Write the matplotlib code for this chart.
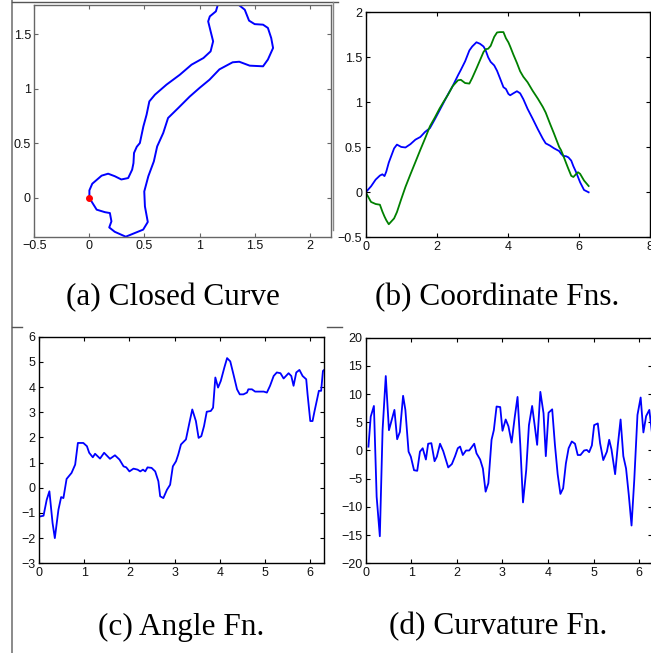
import numpy as np
import matplotlib
matplotlib.use("Agg")
import matplotlib.pyplot as plt
from matplotlib.lines import Line2D
from matplotlib.ticker import FuncFormatter

# closed curve, sampled along its arc-length parameter t
t_curve = [0, 0.15, 0.28, 0.4, 0.47, 0.53, 0.58, 0.65, 0.8, 0.88,
           1.0, 1.12, 1.26, 1.4, 1.54, 1.67, 1.81, 1.94, 2.08, 2.2,
           2.32, 2.45, 2.6, 2.68, 2.8, 2.92, 3.0, 3.12, 3.22, 3.32,
           3.38, 3.45, 3.52, 3.62, 3.7, 3.78, 3.88, 3.95, 4.02, 4.07,
           4.16, 4.26, 4.35, 4.44, 4.56, 4.7, 4.85, 4.99, 5.07, 5.19,
           5.3, 5.45, 5.5, 5.56, 5.65, 5.71, 5.79, 5.85, 5.92, 5.98,
           6.04, 6.15, 6.28]
x_curve = [0, 0.066, 0.141, 0.186, 0.2, 0.18, 0.23, 0.33, 0.488, 0.53,
           0.504, 0.498, 0.535, 0.585, 0.615, 0.67, 0.714, 0.806, 0.91, 1.0,
           1.09, 1.18, 1.3, 1.36, 1.455, 1.576, 1.62, 1.667, 1.65, 1.62,
           1.576, 1.5, 1.449, 1.41, 1.35, 1.27, 1.168, 1.148, 1.093, 1.078,
           1.1, 1.123, 1.1, 1.035, 0.927, 0.82, 0.7, 0.595, 0.544, 0.519,
           0.49, 0.458, 0.43, 0.405, 0.4, 0.388, 0.352, 0.29, 0.23, 0.17,
           0.111, 0.026, 0.0]
y_curve = [0, -0.107, -0.13, -0.138, -0.214, -0.27, -0.31, -0.355, -0.29, -0.22,
           -0.077, 0.06, 0.2, 0.336, 0.473, 0.596, 0.734, 0.825, 0.93, 1.01,
           1.085, 1.18, 1.245, 1.25, 1.214, 1.208, 1.27, 1.376, 1.468, 1.56,
           1.59, 1.595, 1.627, 1.727, 1.776, 1.78, 1.78, 1.712, 1.666, 1.62,
           1.53, 1.437, 1.345, 1.284, 1.223, 1.13, 1.04, 0.948, 0.886, 0.764,
           0.657, 0.504, 0.47, 0.413, 0.32, 0.26, 0.183, 0.17, 0.2, 0.223,
           0.205, 0.131, 0.07]
start_pt = (0.0, 0.0)

# tangent angle along the curve
t_angle = [0.02, 0.1, 0.17, 0.23, 0.3, 0.35, 0.43, 0.49, 0.54, 0.61,
           0.72, 0.8, 0.86, 0.98, 1.06, 1.11, 1.19, 1.24, 1.35, 1.44,
           1.57, 1.68, 1.78, 1.87, 1.93, 2.0, 2.09, 2.18, 2.24, 2.3,
           2.35, 2.4, 2.49, 2.57, 2.64, 2.68, 2.75, 2.83, 2.9, 2.96,
           3.03, 3.08, 3.14, 3.25, 3.33, 3.39, 3.47, 3.53, 3.59, 3.65,
           3.71, 3.8, 3.85, 3.9, 3.96, 4.02, 4.1, 4.16, 4.23, 4.3,
           4.38, 4.44, 4.52, 4.6, 4.63, 4.71, 4.78, 4.97, 5.04, 5.11,
           5.19, 5.26, 5.34, 5.41, 5.52, 5.58, 5.63, 5.69, 5.76, 5.83,
           5.91, 5.94, 6.0, 6.05, 6.09, 6.15, 6.19, 6.24, 6.28, 6.33]
angle = [-1.14, -1.11, -0.48, -0.14, -1.4, -2.0, -0.87, -0.37, -0.41, 0.35,
         0.59, 0.92, 1.78, 1.78, 1.65, 1.39, 1.21, 1.35, 1.16, 1.39,
         1.15, 1.29, 1.12, 0.85, 0.81, 0.65, 0.76, 0.72, 0.65, 0.72,
         0.65, 0.81, 0.79, 0.65, 0.26, -0.34, -0.41, -0.08, 0.12, 0.85,
         1.05, 1.32, 1.72, 1.92, 2.61, 3.11, 2.65, 1.98, 2.05, 2.45,
         3.02, 3.05, 3.18, 4.38, 3.98, 4.24, 4.78, 5.15, 5.02, 4.51,
         3.91, 3.71, 3.71, 3.78, 3.91, 3.91, 3.82, 3.82, 3.78, 4.05,
         4.44, 4.58, 4.55, 4.34, 4.55, 4.44, 4.05, 4.58, 4.68, 4.44,
         4.31, 3.71, 2.65, 2.65, 3.01, 3.51, 3.85, 3.85, 4.64, 4.72]

# curvature along the curve
t_curv = [0.06, 0.11, 0.18, 0.24, 0.31, 0.37, 0.44, 0.51, 0.57, 0.63,
          0.69, 0.75, 0.82, 0.87, 0.94, 0.99, 1.06, 1.13, 1.19, 1.25,
          1.32, 1.37, 1.44, 1.51, 1.56, 1.63, 1.7, 1.81, 1.89, 1.96,
          2.02, 2.07, 2.13, 2.2, 2.27, 2.38, 2.43, 2.51, 2.57, 2.63,
          2.69, 2.76, 2.81, 2.87, 2.95, 3.0, 3.07, 3.13, 3.2, 3.27,
          3.33, 3.39, 3.45, 3.52, 3.58, 3.65, 3.71, 3.76, 3.83, 3.9,
          3.95, 4.01, 4.09, 4.15, 4.21, 4.27, 4.33, 4.39, 4.45, 4.52,
          4.59, 4.65, 4.71, 4.79, 4.85, 4.9, 4.96, 5.01, 5.09, 5.14,
          5.21, 5.29, 5.34, 5.39, 5.47, 5.53, 5.59, 5.65, 5.71, 5.77,
          5.83, 5.89, 5.96, 6.03, 6.09, 6.15, 6.22, 6.28]
curvature = [0.68, 6.0, 7.9, -8.2, -15.2, 3.6, 13.2, 3.6, 5.4, 7.2,
             2.0, 3.3, 9.7, 7.2, -0.2, -1.1, -3.5, -3.6, -0.2, 0.4,
             -1.6, 1.2, 1.3, -1.9, -1.1, 1.2, -0.1, -3.0, -2.4, -1.0,
             0.4, 0.7, -0.8, 0.0, 0.0, 1.2, -0.5, -1.6, -3.2, -7.3,
             -5.8, 1.9, 3.6, 7.8, 7.7, 3.5, 5.5, 4.3, 1.4, 6.0,
             9.5, 1.0, -9.2, -3.5, 4.5, 7.9, 4.2, 1.0, 10.4, 6.6,
             -1.0, 6.7, 7.3, 1.0, -4.2, -7.7, -6.7, -2.3, 0.4, 1.6,
             1.2, -0.8, -0.8, 0.0, 0.1, -0.3, 0.9, 4.5, 4.8, 1.3,
             -1.7, -0.2, 1.9, 0.2, -4.2, 1.0, 5.5, -1.0, -3.2, -7.9,
             -13.3, -5.2, 6.3, 9.4, 3.2, 6.1, 7.2, 3.0]

xticks_a = [-0.5, 0, 0.5, 1, 1.5, 2]
yticks_a = [0, 0.5, 1, 1.5]
xticks_b = [0, 2, 4, 6, 8]
yticks_b = [-0.5, 0, 0.5, 1, 1.5, 2]
xticks_cd = [0, 1, 2, 3, 4, 5, 6]
yticks_c = [-3, -2, -1, 0, 1, 2, 3, 4, 5, 6]
yticks_d = [-20, -15, -10, -5, 0, 5, 10, 15, 20]

captions = ["(a) Closed Curve", "(b) Coordinate Fns.",
            "(c) Angle Fn.", "(d) Curvature Fn."]

W, H = 651, 653
fig = plt.figure(figsize=(W / 100, H / 100), dpi=100)
plt.rcParams['font.family'] = ['Liberation Sans', 'DejaVu Sans']


def px_axes(l, t, r, b):
    return fig.add_axes([l / W, 1 - b / H, (r - l) / W, (b - t) / H])


def num_fmt(v, pos):
    return ('%g' % v).replace('-', '\u2212')


def style(ax, xt, yt, edge='black'):
    ax.set_xticks(xt)
    ax.set_yticks(yt)
    ax.xaxis.set_major_formatter(FuncFormatter(num_fmt))
    ax.yaxis.set_major_formatter(FuncFormatter(num_fmt))
    ax.tick_params(direction='in', top=True, right=True, length=3,
                   width=0.8, labelsize=9, pad=2.5, color=edge,
                   labelcolor='#111111')
    for s in ax.spines.values():
        s.set_color(edge)
        s.set_linewidth(1.0)


blue = (0, 0, 1)
green = (0, 0.5, 0)

# (a) the curve itself
ax = px_axes(34.3, 4.5, 330.7, 236.7)
ax.plot(np.append(x_curve, start_pt[0]), np.append(y_curve, start_pt[1]),
        color=blue, lw=1.4)
ax.plot(*start_pt, 'o', color='red', ms=4, mec='red')
ax.set_xlim(-0.5, 2.19)
ax.set_ylim(-0.355, 1.775)
style(ax, xticks_a, yticks_a, edge='#666666')

# (b) x(t) and y(t)
ax = px_axes(365.7, 12.3, 649.7, 237.3)
ax.plot(t_curve, x_curve, color=blue, lw=1.3)
ax.plot(t_curve, y_curve, color=green, lw=1.3)
ax.set_xlim(0, 8)
ax.set_ylim(-0.5, 2)
style(ax, xticks_b, yticks_b)

# (c) angle
ax = px_axes(39, 336.7, 324.3, 563.3)
ax.plot(t_angle, angle, color=blue, lw=1.3)
ax.set_xlim(0, 6.31)
ax.set_ylim(-3, 6)
style(ax, xticks_cd, yticks_c)

# (d) curvature
ax = px_axes(365.7, 337.7, 652.2, 563.3)
ax.plot(t_curv, curvature, color=blue, lw=1.3)
ax.set_xlim(0, 2 * np.pi)
ax.set_ylim(-20, 20)
style(ax, xticks_cd, yticks_d)

# captions
for (cx, cy), txt in zip([(172.5, 298), (497.5, 298), (180.7, 627), (498, 627)],
                         captions):
    fig.text(cx / W, 1 - cy / H, txt, ha='center', va='center',
             fontsize=22.5, family=['Liberation Serif', 'DejaVu Serif'])


# frame lines around the panels
def px_line(xs, ys, color, lw):
    fig.add_artist(Line2D([x / W for x in xs], [1 - y / H for y in ys],
                          color=color, lw=lw, transform=fig.transFigure))


px_line([12.3, 12.3], [0, 653], '#777777', 1.2)
px_line([12.3, 338], [2, 2], '#555555', 1.0)
px_line([332.7, 332.7], [2, 230], '#888888', 1.0)
px_line([12.3, 22], [327, 327], '#555555', 1.0)
px_line([327, 342], [327, 327], '#555555', 1.0)

fig.savefig("out.png", dpi=100)
